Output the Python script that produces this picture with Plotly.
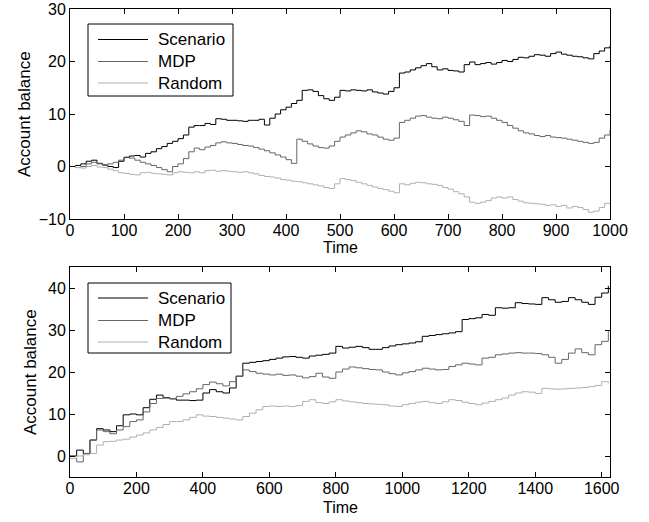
import plotly.graph_objects as go
from plotly.subplots import make_subplots

# ---------------- data: top panel (t = 0..1000 step 10) ----------------
t_top = list(range(0, 1001, 10))
scenario_top = [0, 0.2, 0.5, 1.0, 1.2, 0.6, 0.3, 0.0, -0.2, 1.0,
                1.7, 2.0, 2.1, 1.8, 2.5, 2.8, 3.4, 3.8, 4.4, 4.8,
                5.3, 6.0, 7.5, 7.8, 7.8, 8.2, 8.0, 9.1, 9.0, 8.8,
                8.8, 8.7, 8.6, 8.8, 8.8, 9.0, 7.9, 9.2, 10.0, 10.8,
                11.3, 12.0, 12.6, 14.5, 14.6, 14.3, 13.5, 12.9, 12.6, 13.2,
                14.5, 14.4, 14.6, 14.5, 14.4, 14.6, 14.2, 14.0, 13.8, 14.3,
                15.0, 17.8, 18.0, 18.4, 18.8, 19.2, 19.6, 19.0, 18.4, 18.6,
                18.3, 18.2, 18.0, 19.4, 19.9, 19.4, 19.6, 19.8, 19.5, 19.8,
                20.2, 20.0, 20.4, 20.8, 20.7, 21.0, 21.3, 21.2, 21.0, 21.5,
                21.8, 21.4, 21.2, 21.0, 20.9, 20.7, 20.5, 21.5, 22.0, 22.6,
                23.0]
mdp_top = [0, -0.2, 0.0, 0.5, 0.8, 0.5, 0.2, 0.5, 0.8, 1.2,
           1.8, 1.6, 1.2, 0.8, 0.5, 0.2, -0.2, -0.6, -1.0, 0.0,
           0.5, 1.5, 2.8, 3.5, 3.2, 3.7, 4.0, 4.5, 4.7, 4.5,
           4.4, 4.2, 4.0, 3.9, 3.6, 3.3, 3.0, 2.6, 2.2, 1.8,
           1.3, 0.6, 5.2, 4.8, 4.3, 3.9, 3.6, 3.5, 3.9, 4.8,
           5.6, 6.0, 6.4, 6.8, 6.6, 6.2, 6.0, 5.6, 5.2, 5.0,
           5.4, 8.4, 8.8, 9.2, 9.6, 9.7, 9.4, 9.2, 9.1, 9.4,
           9.2, 8.9, 8.6, 7.8, 9.8, 9.7, 9.5, 9.6, 9.2, 8.8,
           8.4, 7.8, 7.3, 6.8, 6.4, 6.2, 5.9, 5.7, 5.9, 5.6,
           5.5, 5.4, 5.2, 5.0, 4.8, 4.6, 4.4, 4.6, 5.4, 6.0,
           7.0]
random_top = [0, -0.2, -0.3, 0.0, 0.2, -0.1, -0.2, -0.5, -0.8, -1.2,
              -1.3, -1.5, -1.6, -1.2, -1.1, -1.3, -1.4, -1.5, -1.6, -1.2,
              -1.0, -1.1, -1.2, -1.0, -1.2, -0.8, -0.7, -0.9, -0.8, -0.9,
              -1.0, -1.1, -1.0, -1.2, -1.4, -1.7, -1.9, -2.0, -2.2, -2.5,
              -2.6, -2.8, -2.9, -3.1, -3.3, -3.5, -3.7, -4.0, -4.2, -3.3,
              -2.3, -2.5, -2.7, -3.0, -3.3, -3.6, -3.9, -4.2, -4.4, -4.7,
              -5.0, -3.3, -3.5, -3.2, -3.0, -3.1, -3.3, -3.4, -3.6, -4.0,
              -4.3, -4.8, -5.2, -5.8, -6.8, -7.0, -6.8, -6.5, -6.0, -5.8,
              -6.0, -5.8, -6.3, -6.6, -6.9, -7.0, -7.1, -7.2, -7.4, -7.3,
              -7.6, -7.4, -7.9, -7.6, -7.8, -8.2, -8.7, -8.5, -7.8, -7.0,
              -7.3]

# ---------------- data: bottom panel (t = 0..1620 step 20) ----------------
t_bot = list(range(0, 1621, 20))
scenario_bot = [0, 1.4, 0.6, 3.8, 6.5, 6.2, 5.8, 7.2, 9.8, 10.0,
                9.8, 11.5, 13.5, 14.5, 13.9, 13.6, 13.3, 13.3, 13.2, 13.3,
                15.0, 15.8, 15.3, 15.0, 16.2, 19.0, 22.1, 22.3, 22.5, 22.7,
                23.0, 23.3, 23.6, 23.7, 23.5, 23.3, 23.8, 24.0, 24.2, 24.5,
                26.1, 25.7, 25.9, 26.1, 25.8, 25.4, 25.4, 25.8, 26.2, 26.5,
                26.7, 26.9, 27.2, 28.5, 28.7, 28.9, 29.1, 29.3, 29.6, 32.5,
                32.7, 32.9, 33.7, 33.5, 35.3, 35.2, 35.3, 36.5, 36.3, 36.2,
                36.1, 37.7, 37.2, 36.6, 36.8, 37.7, 37.2, 36.6, 36.1, 37.8,
                38.8, 40.5]
mdp_bot = [-0.6, -1.4, 0.6, 3.8, 6.2, 5.8, 5.3, 6.2, 7.0, 8.2,
           8.6, 10.5, 12.5, 13.7, 13.8, 13.7, 14.2, 14.8, 15.3, 16.0,
           17.0, 17.6, 17.2, 16.7, 17.7, 19.0, 20.5, 20.1, 19.7, 19.5,
           19.3, 19.5, 19.2, 19.3, 19.0, 18.6, 18.9, 19.7, 18.8, 18.5,
           20.0, 20.7, 21.2, 21.0, 20.8, 20.6, 20.5, 20.0, 19.6, 19.3,
           19.8, 20.1, 20.5, 20.9, 20.7, 20.5, 20.6, 21.3, 21.7, 22.1,
           21.9, 21.7, 23.3, 23.5, 24.1, 24.3, 24.5, 24.6, 24.5, 24.5,
           24.4, 24.1, 23.5, 22.1, 23.0, 24.5, 25.5, 24.6, 24.1, 26.5,
           27.3, 29.7]
random_bot = [-0.6, 0.0, 0.3, 0.6, 2.6, 3.4, 3.5, 3.8, 4.0, 4.5,
              5.0, 5.5, 6.2, 6.8, 7.5, 8.2, 8.2, 8.6, 9.2, 9.8,
              9.5, 9.4, 9.2, 9.0, 8.8, 8.6, 9.4, 10.2, 11.0, 11.8,
              11.9, 11.8, 11.9, 11.8, 12.0, 13.0, 13.4, 12.7, 12.5, 12.9,
              13.4, 13.1, 12.9, 12.7, 12.5, 12.4, 12.3, 12.2, 11.9, 11.8,
              12.2, 12.5, 12.8, 13.0, 12.7, 12.5, 12.9, 13.4, 13.2, 12.8,
              12.5, 12.2, 12.6, 13.0, 13.4, 13.8, 14.5, 15.0, 15.3, 15.2,
              14.9, 16.1, 16.0, 15.9, 16.0, 16.1, 16.2, 16.3, 16.5, 16.8,
              17.7, 17.3]

series_names = ["Scenario", "MDP", "Random"]
series_colors = ["#000000", "#666666", "#b0b0b0"]

x_ticks_top = list(range(0, 1001, 100))
y_ticks_top = [-10, 0, 10, 20, 30]
x_ticks_bot = list(range(0, 1601, 200))
y_ticks_bot = [0, 10, 20, 30, 40]

FONT = "Liberation Sans, Arial, sans-serif"
FS = 17
FS_TICK = 16

# plot-area geometry in pixels (figure 649 x 522)
W, H = 649, 522
PL, PR, PT, PB = 70, 610, 9, 477


def px2paper(px, py):
    return (px - PL) / (PR - PL), (PB - py) / (PB - PT)


fig = make_subplots(rows=2, cols=1)

top_series = [scenario_top, mdp_top, random_top]
bot_series = [scenario_bot, mdp_bot, random_bot]
for name, col, ys in zip(series_names, series_colors, top_series):
    fig.add_trace(go.Scatter(x=t_top, y=ys, mode="lines", name=name, showlegend=False,
                             line=dict(color=col, width=1, shape="hv")), row=1, col=1)
for name, col, ys in zip(series_names, series_colors, bot_series):
    fig.add_trace(go.Scatter(x=t_bot, y=ys, mode="lines", name=name, showlegend=False,
                             line=dict(color=col, width=1, shape="hv")), row=2, col=1)

axis_common = dict(showline=True, linecolor="black", linewidth=1, mirror="ticks",
                   ticks="inside", ticklen=5, tickcolor="black", tickwidth=1,
                   showgrid=False, zeroline=False, automargin=False,
                   ticklabeloverflow="allow",
                   tickfont=dict(family=FONT, size=FS_TICK, color="black"))
xaxis_extra = dict(ticklabelstandoff=-3)

top_dom = [(PB - 219) / (PB - PT), 1.0]
bot_dom = [0.0, (PB - 267) / (PB - PT)]

shapes = []
annotations = []

# ---- legends drawn as boxes + sample lines + text (MATLAB style) ----
legend_specs = [
    (88, 24, 233, 96, [39.5, 61.5, 83.0]),
    (88, 283, 231, 353, [298.0, 320.5, 342.0]),
]
for (bx0, by0, bx1, by1, rows) in legend_specs:
    x0, y0 = px2paper(bx0, by0)
    x1, y1 = px2paper(bx1, by1)
    shapes.append(dict(type="rect", xref="paper", yref="paper", x0=x0, y0=y1, x1=x1, y1=y0,
                       line=dict(color="black", width=1), fillcolor="white", layer="above"))
    for name, col, ry in zip(series_names, series_colors, rows):
        lx0, ly = px2paper(98, ry)
        lx1, _ = px2paper(148, ry)
        shapes.append(dict(type="line", xref="paper", yref="paper", x0=lx0, y0=ly, x1=lx1, y1=ly,
                           line=dict(color=col, width=1), layer="above"))
        tx, ty = px2paper(156, ry)
        annotations.append(dict(xref="paper", yref="paper", x=tx, y=ty, text=name,
                                showarrow=False, xanchor="left", yanchor="middle",
                                font=dict(family=FONT, size=FS, color="black")))

# ---- axis titles placed like MATLAB labels ----
for (cx, cy) in [(340, 247), (340, 507)]:
    ax, ay = px2paper(cx, cy)
    annotations.append(dict(xref="paper", yref="paper", x=ax, y=ay, text="Time",
                            showarrow=False, xanchor="center", yanchor="middle",
                            font=dict(family=FONT, size=FS_TICK, color="black")))
for (cx, cy) in [(25, 114), (30, 372)]:
    ax, ay = px2paper(cx, cy)
    annotations.append(dict(xref="paper", yref="paper", x=ax, y=ay, text="Account balance",
                            showarrow=False, xanchor="center", yanchor="middle", textangle=-90,
                            font=dict(family=FONT, size=FS, color="black")))

fig.update_layout(
    width=W, height=H,
    margin=dict(l=PL, r=W - PR, t=PT, b=H - PB, autoexpand=False),
    paper_bgcolor="white", plot_bgcolor="white",
    font=dict(family=FONT, size=FS, color="black"),
    xaxis=dict(range=[0, 1000], tickvals=x_ticks_top, domain=[0, 1], **axis_common, **xaxis_extra),
    yaxis=dict(range=[-10, 30], tickvals=y_ticks_top, domain=top_dom, **axis_common),
    xaxis2=dict(range=[0, 1625], tickvals=x_ticks_bot, domain=[0, 1], **axis_common, **xaxis_extra),
    yaxis2=dict(range=[-5, 45], tickvals=y_ticks_bot, domain=bot_dom, **axis_common),
    shapes=shapes,
    annotations=annotations,
    showlegend=False,
)

fig.write_html("out.html", config={"displayModeBar": False},
               post_script="document.body.style.margin='0';")
